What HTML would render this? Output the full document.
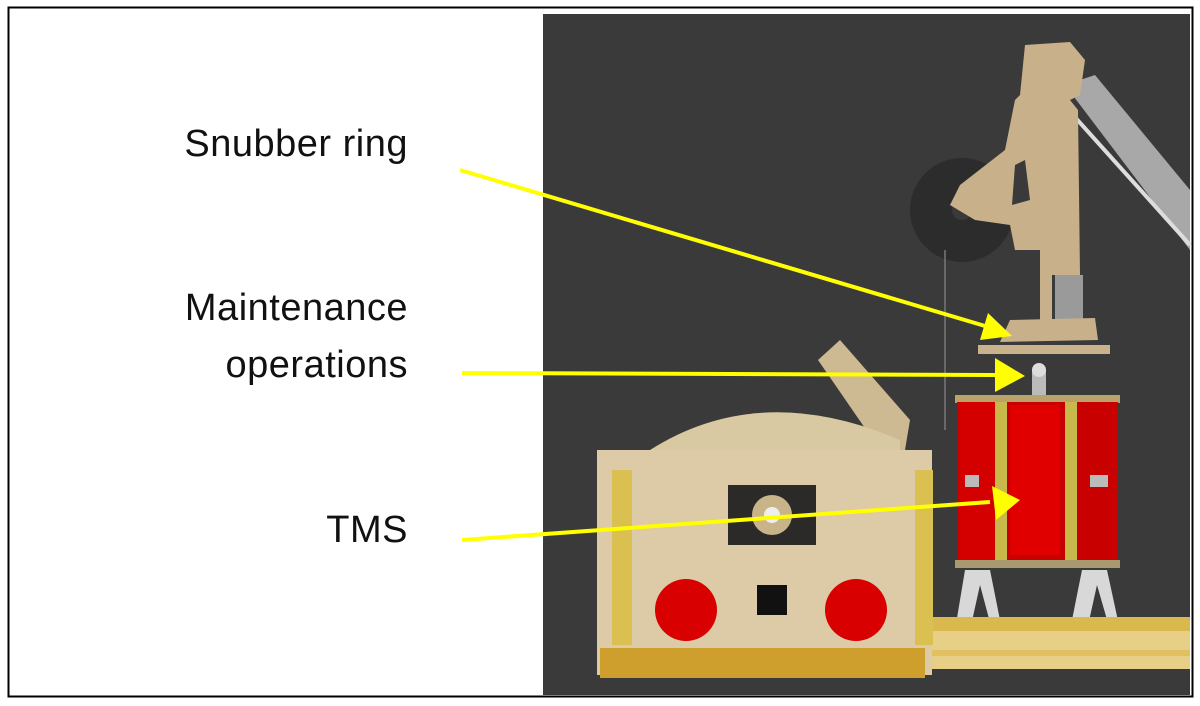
<!DOCTYPE html>
<html><head><style>
html,body{margin:0;padding:0;background:#fff;}
.lbl{position:absolute;right:792px;font-family:"Liberation Sans",sans-serif;font-size:38px;letter-spacing:0.5px;color:#111;text-align:right;line-height:57px;white-space:nowrap;}
</style></head><body>
<div style="position:relative;width:1200px;height:706px;overflow:hidden;">
<svg width="1200" height="706" style="position:absolute;left:0;top:0">
<rect x="8.5" y="7.5" width="1184" height="689" fill="#fff" stroke="#000" stroke-width="2"/>
<rect x="543" y="14" width="647" height="681" fill="#3a3a3a"/>
<!-- arm -->
<polygon points="1065,85 1095,75 1190,190 1190,250" fill="#a8a8a8"/>
<line x1="1055" y1="95" x2="1190" y2="245" stroke="#ddd" stroke-width="4"/>
<!-- disk -->
<circle cx="962" cy="210" r="52" fill="#2c2c2c"/>
<circle cx="962" cy="210" r="10" fill="#3a3a3a"/>
<!-- robot -->
<polygon points="1025,45 1070,42 1085,60 1080,95 1070,100 1078,110 1080,275 1040,275 1040,250 1015,250 1010,225 975,220 950,205 960,185 1005,150 1015,100 1020,95" fill="#c8b18a"/>
<polygon points="1015,165 1025,160 1030,200 1012,205" fill="#3a3a3a"/>
<rect x="1055" y="275" width="28" height="48" fill="#9a9a9a"/>
<rect x="1040" y="270" width="12" height="55" fill="#c8b18a"/>
<polygon points="1010,320 1095,318 1098,340 1000,342" fill="#c8b18a"/>
<rect x="978" y="345" width="132" height="9" fill="#c9b38d"/>
<line x1="945" y1="250" x2="945" y2="430" stroke="#777" stroke-width="1.5"/>
<!-- pin -->
<rect x="1032" y="370" width="14" height="28" fill="#bbb"/>
<circle cx="1039" cy="370" r="7" fill="#ddd"/>
<!-- TMS -->
<rect x="955" y="395" width="165" height="8" fill="#b9a36a"/>
<rect x="957" y="402" width="161" height="160" fill="#c80000"/>
<rect x="960" y="402" width="35" height="160" fill="#d40000"/>
<rect x="995" y="402" width="12" height="160" fill="#c8b94a"/>
<rect x="1065" y="402" width="12" height="160" fill="#c8b94a"/>
<rect x="1010" y="405" width="50" height="150" fill="#e00000"/>
<rect x="965" y="475" width="14" height="12" fill="#bbb"/>
<rect x="1090" y="475" width="18" height="12" fill="#bbb"/>
<rect x="955" y="560" width="165" height="8" fill="#a89a70"/>
<polygon points="965,570 990,570 1002,630 992,630 980,585 970,630 955,630" fill="#d8d8d8"/>
<polygon points="1082,570 1107,570 1120,630 1110,630 1097,585 1087,630 1070,630" fill="#d8d8d8"/>
<!-- base bar -->
<rect x="920" y="617" width="270" height="52" fill="#e8cf88"/>
<rect x="920" y="617" width="270" height="14" fill="#d9b84e"/>
<rect x="920" y="650" width="270" height="6" fill="#e0c060"/>
<!-- tilted plate -->
<polygon points="818,360 840,340 910,420 905,450 880,450" fill="#cdb992"/>
<!-- box -->
<path d="M650,450 Q760,380 900,440 L900,460 L650,460Z" fill="#d9c9a3"/>
<rect x="597" y="450" width="335" height="225" fill="#dccba6"/>
<rect x="612" y="470" width="20" height="175" fill="#d9c050"/>
<rect x="915" y="470" width="18" height="175" fill="#d9c050"/>
<rect x="600" y="648" width="325" height="30" fill="#cf9f2e"/>
<rect x="728" y="485" width="88" height="60" fill="#2c2a28"/>
<circle cx="772" cy="515" r="20" fill="#c9b48a"/>
<circle cx="772" cy="515" r="8" fill="#eee"/>
<circle cx="686" cy="610" r="31" fill="#d80000"/>
<circle cx="856" cy="610" r="31" fill="#d80000"/>
<rect x="757" y="585" width="30" height="30" fill="#111"/>
<!-- arrows -->
<g stroke="#ffff00" stroke-width="4" fill="#ffff00">
<line x1="460" y1="170" x2="985" y2="326"/>
<polygon points="1012,336 980,340 988,313" stroke="none"/>
<line x1="462" y1="373" x2="995" y2="375"/>
<polygon points="1025,376 995,392 995,358" stroke="none"/>
<line x1="462" y1="540" x2="990" y2="502"/>
<polygon points="1020,500 996,520 992,486" stroke="none"/>
</g>
</svg>
<div class="lbl" style="top:116px">Snubber ring</div>
<div class="lbl" style="top:280px">Maintenance<br>operations</div>
<div class="lbl" style="top:502px">TMS</div>
</div>
</body></html>
